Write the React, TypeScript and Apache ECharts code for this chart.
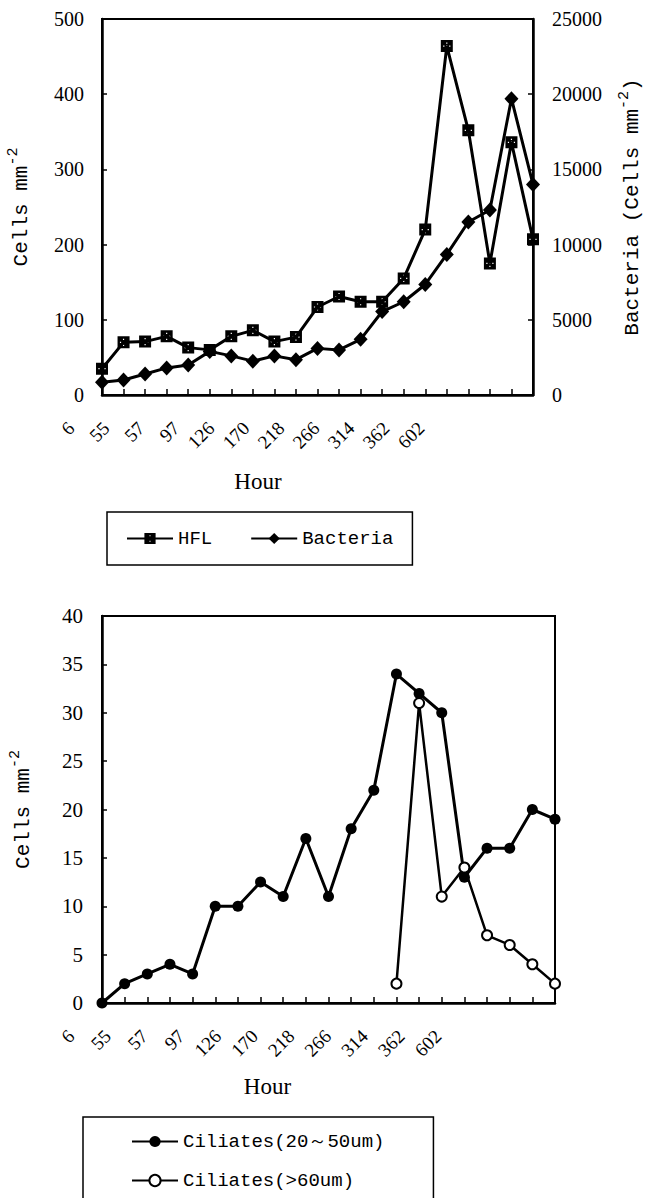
import React, { useEffect, useRef } from "react";
import * as echarts from "echarts";

// Sampling occasions along the run (21 samples) and the hour labels printed under each panel
const sampleIds = [
  "1", "2", "3", "4", "5", "6", "7", "8", "9", "10", "11",
  "12", "13", "14", "15", "16", "17", "18", "19", "20", "21",
];
const hourLabels = ["6", "55", "57", "97", "126", "170", "218", "266", "314", "362", "602"];

// Upper panel: heterotrophic flagellates (cells mm^-2) and bacteria (cells mm^-2)
const hflCells = [35, 70, 71, 78, 63, 60, 78, 86, 71, 77, 117, 131, 124, 124, 155, 220, 464, 352, 175, 336, 207];
const bacteriaCells = [850, 1000, 1400, 1800, 2000, 2900, 2600, 2250, 2600, 2350, 3100, 3000, 3700, 5550, 6200, 7350, 9350, 11500, 12300, 19700, 14000];

// Lower panel: ciliates by size class (cells mm^-2)
const ciliatesSmall = [0, 2, 3, 4, 3, 10, 10, 12.5, 11, 17, 11, 18, 22, 34, 32, 30, 13, 16, 16, 20, 19];
const ciliatesLarge = [null, null, null, null, null, null, null, null, null, null, null, null, null, 2, 31, 11, 14, 7, 6, 4, 2];

const SERIF = "Liberation Serif";
const MONO = "Liberation Mono";

// Black square with a dotted interior (holes wound opposite to the outline)
const dottedSquare =
  "path://M0,0H12V12H0Z" +
  "M5.4,2.4V3.6H6.6V2.4Z" +
  "M2.4,5.4V6.6H3.6V5.4Z" +
  "M8.4,5.4V6.6H9.6V5.4Z" +
  "M5.4,8.4V9.6H6.6V8.4Z" +
  "M5.5,5.5V6.5H6.5V5.5Z";

const axisLineStyle = { show: true, lineStyle: { color: "#000", width: 2.5 } };
const tickInside = { show: true, inside: true, length: 5, lineStyle: { color: "#000", width: 1.5 } };

const titleStyle = {
  fontFamily: MONO,
  fontSize: 21,
  color: "#000",
  rich: {
    sup: { fontFamily: MONO, fontSize: 15, color: "#000", padding: [0, 0, 15, 0] },
  },
};

const hourNameStyle = (shift: number) => ({
  fontFamily: SERIF,
  fontSize: 23,
  color: "#000",
  padding: [0, 0, 0, shift],
});

const hourLabelStyle = {
  rotate: 45,
  interval: 0,
  margin: 30,
  fontFamily: SERIF,
  fontSize: 19,
  color: "#000",
};

const plainNumber = (v: number) => String(v);

// Fixed plot rectangles; label overflow must not shrink them
const fixedGrid = { outerBoundsMode: "none", containLabel: false };

export default function App() {
  const ref = useRef<HTMLDivElement>(null);

  useEffect(() => {
    if (!ref.current) return;
    const chart = echarts.init(ref.current, undefined, { renderer: "svg" });

    const option = {
      animation: false,
      backgroundColor: "#fff",
      grid: [
        { ...fixedGrid, left: 102, top: 19, width: 431, height: 376, show: true, borderColor: "#000", borderWidth: 2 },
        { ...fixedGrid, left: 71, top: 19, width: 350, height: 376, show: false },
        { ...fixedGrid, left: 102, top: 616, width: 453, height: 387, show: true, borderColor: "#000", borderWidth: 2 },
        { ...fixedGrid, left: 71, top: 616, width: 367, height: 387, show: false },
      ],
      xAxis: [
        {
          type: "category",
          gridIndex: 0,
          data: sampleIds,
          boundaryGap: false,
          axisLine: axisLineStyle,
          axisTick: { ...tickInside, length: 6, interval: 0 },
          axisLabel: { show: false },
          splitLine: { show: false },
        },
        {
          type: "category",
          gridIndex: 1,
          data: hourLabels,
          boundaryGap: false,
          axisLine: { show: false },
          axisTick: { show: false },
          axisLabel: hourLabelStyle,
          name: "Hour",
          nameLocation: "middle",
          nameGap: 75,
          nameTextStyle: hourNameStyle(24),
        },
        {
          type: "category",
          gridIndex: 2,
          data: sampleIds,
          boundaryGap: false,
          axisLine: axisLineStyle,
          axisTick: { ...tickInside, length: 6, interval: 0 },
          axisLabel: { show: false },
          splitLine: { show: false },
        },
        {
          type: "category",
          gridIndex: 3,
          data: hourLabels,
          boundaryGap: false,
          axisLine: { show: false },
          axisTick: { show: false },
          axisLabel: hourLabelStyle,
          name: "Hour",
          nameLocation: "middle",
          nameGap: 72,
          nameTextStyle: hourNameStyle(26),
        },
      ],
      yAxis: [
        {
          type: "value",
          gridIndex: 0,
          min: 0,
          max: 500,
          interval: 100,
          axisLine: axisLineStyle,
          axisTick: tickInside,
          splitLine: { show: false },
          axisLabel: { fontFamily: SERIF, fontSize: 20, color: "#000", margin: 18, formatter: plainNumber },
          name: "Cells mm{sup|-2}",
          nameLocation: "middle",
          nameRotate: 90,
          nameGap: 66,
          nameTextStyle: titleStyle,
        },
        {
          type: "value",
          gridIndex: 0,
          position: "right",
          min: 0,
          max: 25000,
          interval: 5000,
          axisLine: axisLineStyle,
          axisTick: tickInside,
          splitLine: { show: false },
          axisLabel: { fontFamily: SERIF, fontSize: 20, color: "#000", margin: 19, formatter: plainNumber },
          name: "Bacteria (Cells mm{sup|-2})",
          nameLocation: "middle",
          nameRotate: 90,
          nameGap: 84,
          nameTextStyle: titleStyle,
        },
        {
          type: "value",
          gridIndex: 2,
          min: 0,
          max: 40,
          interval: 5,
          axisLine: axisLineStyle,
          axisTick: tickInside,
          splitLine: { show: false },
          axisLabel: { fontFamily: SERIF, fontSize: 21, color: "#000", margin: 19, formatter: plainNumber },
          name: "Cells mm{sup|-2}",
          nameLocation: "middle",
          nameRotate: 90,
          nameGap: 64,
          nameTextStyle: titleStyle,
        },
        { type: "value", gridIndex: 1, show: false },
        { type: "value", gridIndex: 3, show: false },
      ],
      legend: [
        {
          left: 107,
          top: 512,
          orient: "horizontal",
          data: ["HFL", "Bacteria"],
          itemWidth: 46,
          itemHeight: 14,
          itemGap: 38,
          padding: [17, 19, 17, 19],
          borderColor: "#000",
          borderWidth: 1.5,
          textStyle: { fontFamily: MONO, fontSize: 19, color: "#000" },
        },
        {
          left: 83,
          top: 1117,
          height: 140,
          orient: "vertical",
          data: ["Ciliates(20～50um)", "Ciliates(>60um)"],
          itemWidth: 46,
          itemHeight: 14,
          itemGap: 20,
          padding: [15, 49, 16, 48],
          borderColor: "#000",
          borderWidth: 1.5,
          textStyle: { fontFamily: MONO, fontSize: 19, color: "#000" },
        },
      ],
      series: [
        {
          name: "Bacteria",
          type: "line",
          xAxisIndex: 0,
          yAxisIndex: 1,
          data: bacteriaCells,
          symbol: "diamond",
          symbolSize: [14, 15],
          showAllSymbol: true,
          lineStyle: { color: "#000", width: 3 },
          itemStyle: { color: "#000" },
        },
        {
          name: "HFL",
          type: "line",
          xAxisIndex: 0,
          yAxisIndex: 0,
          data: hflCells,
          symbol: dottedSquare,
          symbolSize: 12,
          showAllSymbol: true,
          lineStyle: { color: "#000", width: 3 },
          itemStyle: { color: "#000" },
        },
        {
          name: "Ciliates(20～50um)",
          type: "line",
          xAxisIndex: 2,
          yAxisIndex: 2,
          data: ciliatesSmall,
          symbol: "circle",
          symbolSize: 11,
          showAllSymbol: true,
          lineStyle: { color: "#000", width: 3 },
          itemStyle: { color: "#000" },
        },
        {
          name: "Ciliates(>60um)",
          type: "line",
          xAxisIndex: 2,
          yAxisIndex: 2,
          data: ciliatesLarge,
          symbol: "circle",
          symbolSize: 10,
          showAllSymbol: true,
          connectNulls: false,
          lineStyle: { color: "#000", width: 2.5 },
          itemStyle: { color: "#fff", borderColor: "#000", borderWidth: 2 },
        },
      ],
    };

    chart.setOption(option as any);
    return () => chart.dispose();
  }, []);

  return (
    <div
      ref={ref}
      style={{ position: "fixed", left: 0, top: 0, width: 646, height: 1198, background: "#fff" }}
    />
  );
}
